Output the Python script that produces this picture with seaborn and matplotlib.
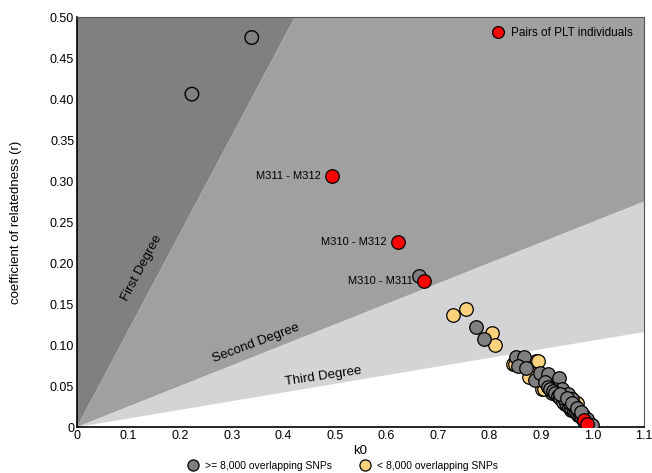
import numpy as np
import pandas as pd
import matplotlib
matplotlib.use("Agg")
import matplotlib.pyplot as plt
import seaborn as sns
from matplotlib.lines import Line2D

# >= 8,000 overlapping SNPs
gray_k0 = [0.664, 0.773, 0.790, 0.851, 0.866, 0.855, 0.870, 0.889, 0.898, 0.913,
           0.934, 0.908, 0.914, 0.921, 0.925, 0.930, 0.935, 0.938, 0.942, 0.945,
           0.948, 0.950, 0.953, 0.955, 0.957, 0.960, 0.962, 0.964, 0.966, 0.968,
           0.970, 0.972, 0.974, 0.976, 0.978, 0.980, 0.982, 0.984, 0.986, 0.988,
           0.990, 0.992, 0.994, 0.996, 0.997, 0.940, 0.952, 0.960, 0.946, 0.958,
           0.918, 0.924, 0.928, 0.932, 0.937, 0.943, 0.949, 0.954, 0.959, 0.963,
           0.967, 0.971, 0.975, 0.979, 0.983, 0.987, 0.991, 0.995, 0.944, 0.956,
           0.965, 0.973, 0.981, 0.989, 0.998, 0.936, 0.951, 0.961, 0.969, 0.977]
gray_r = [0.184, 0.122, 0.107, 0.085, 0.085, 0.074, 0.072, 0.058, 0.066, 0.065,
          0.060, 0.055, 0.049, 0.041, 0.046, 0.040, 0.043, 0.036, 0.039, 0.033,
          0.036, 0.030, 0.032, 0.027, 0.030, 0.025, 0.027, 0.022, 0.024, 0.019,
          0.021, 0.017, 0.018, 0.014, 0.016, 0.012, 0.013, 0.010, 0.011, 0.007,
          0.008, 0.005, 0.004, 0.002, 0.001, 0.047, 0.040, 0.034, 0.028, 0.021,
          0.047, 0.044, 0.042, 0.038, 0.035, 0.031, 0.029, 0.025, 0.023, 0.020,
          0.018, 0.015, 0.013, 0.011, 0.008, 0.006, 0.003, 0.003, 0.036, 0.029,
          0.026, 0.020, 0.015, 0.010, 0.002, 0.040, 0.035, 0.030, 0.023, 0.019]

# < 8,000 overlapping SNPs
yellow_k0 = [0.729, 0.754, 0.804, 0.811, 0.845, 0.849, 0.879, 0.890, 0.894, 0.876,
             0.902, 0.905, 0.959, 0.966, 0.969, 0.955, 0.985]
yellow_r = [0.137, 0.144, 0.115, 0.100, 0.077, 0.077, 0.072, 0.081, 0.081, 0.061,
            0.046, 0.047, 0.035, 0.031, 0.029, 0.037, 0.006]

# pairs of PLT individuals
red_k0 = [0.4955, 0.622, 0.673, 0.984, 0.990]
red_r = [0.306, 0.226, 0.178, 0.0085, 0.004]
red_labels = ["M311 - M312", "M310 - M312", "M310 - M311", "", ""]

# open circles
open_k0 = [0.223, 0.339]
open_r = [0.406, 0.475]

# degree boundaries
first_top_k0 = 0.423   # first-degree line reaches r = 0.5 here
second_right_r = 0.275  # second-degree line at k0 = 1.1
third_right_r = 0.116   # third-degree line at k0 = 1.1

sns.set_style("white")
plt.rcParams['font.family'] = ['Liberation Sans', 'DejaVu Sans']
plt.rcParams['text.color'] = 'black'
plt.rcParams['axes.labelcolor'] = 'black'
plt.rcParams['xtick.color'] = 'black'
plt.rcParams['ytick.color'] = 'black'

fig = plt.figure(figsize=(6.52, 4.73), dpi=100)
ax = fig.add_axes([0.118, 0.097, 0.870, 0.867])
ax.set_xlim(0, 1.1)
ax.set_ylim(0, 0.5)

ax.fill([0, 0, first_top_k0], [0, 0.5, 0.5], color="#808080", lw=0, zorder=0)
ax.fill([0, first_top_k0, 1.1, 1.1], [0, 0.5, 0.5, second_right_r], color="#a0a0a0", lw=0, zorder=0)
ax.fill([0, 1.1, 1.1], [0, second_right_r, third_right_r], color="#d4d4d6", lw=0, zorder=0)

ax.text(0.126, 0.194, "First Degree", rotation=62, ha="center", va="center", fontsize=9.5)
ax.text(0.348, 0.102, "Second Degree", rotation=20.5, ha="center", va="center", fontsize=9.5)
ax.text(0.478, 0.062, "Third Degree", rotation=8.5, ha="center", va="center", fontsize=9.5)

yellow = pd.DataFrame({"k0": yellow_k0, "r": yellow_r})
gray = pd.DataFrame({"k0": gray_k0, "r": gray_r})
red = pd.DataFrame({"k0": red_k0, "r": red_r})
opn = pd.DataFrame({"k0": open_k0, "r": open_r})

sns.scatterplot(data=yellow, x="k0", y="r", ax=ax, s=95, color="#fdd27c",
                edgecolor="black", linewidth=0.9, zorder=3)
sns.scatterplot(data=gray, x="k0", y="r", ax=ax, s=95, color="#7f7f7f",
                edgecolor="black", linewidth=0.9, zorder=3)
sns.scatterplot(data=opn, x="k0", y="r", ax=ax, s=95, facecolor="none",
                edgecolor="black", linewidth=1.0, zorder=3)
sns.scatterplot(data=red, x="k0", y="r", ax=ax, s=95, color="#ff0000",
                edgecolor="black", linewidth=0.9, zorder=4)

for x, y, lab in zip(red_k0, red_r, red_labels):
    if lab:
        ax.annotate(lab, (x, y), xytext=(-8, 0), textcoords="offset points",
                    ha="right", va="center", fontsize=8)

ax.set_xticks(np.arange(0, 1.11, 0.1))
ax.set_xticklabels(["0"] + [f"{v:.1f}" for v in np.arange(0.1, 1.11, 0.1)])
ax.set_yticks(np.arange(0, 0.51, 0.05))
ax.set_yticklabels(["0"] + [f"{v:.2f}" for v in np.arange(0.05, 0.51, 0.05)])
ax.tick_params(axis="both", labelsize=9, length=0, pad=2)
ax.set_xlabel("k0", fontsize=9.5, labelpad=2)
ax.set_ylabel("coefficient of relatedness (r)", fontsize=9.5, labelpad=20)

for side in ["left", "bottom"]:
    ax.spines[side].set_color("black")
    ax.spines[side].set_linewidth(1.2)
for side in ["top", "right"]:
    ax.spines[side].set_color("#555555")
    ax.spines[side].set_linewidth(0.8)

red_h = Line2D([], [], marker="o", ls="", markersize=8.5, markerfacecolor="#ff0000",
               markeredgecolor="black", markeredgewidth=0.9)
ax.legend([red_h], ["Pairs of PLT individuals"], loc="upper right",
          bbox_to_anchor=(0.995, 0.995), frameon=False, fontsize=8.5,
          handletextpad=0.1, borderaxespad=0.3)

gray_h = Line2D([], [], marker="o", ls="", markersize=8, markerfacecolor="#7f7f7f",
                markeredgecolor="black", markeredgewidth=0.9)
yel_h = Line2D([], [], marker="o", ls="", markersize=8, markerfacecolor="#fdd27c",
               markeredgecolor="black", markeredgewidth=0.9)
fig.legend([gray_h, yel_h], [">= 8,000 overlapping SNPs", "< 8,000 overlapping SNPs"],
           loc="center", bbox_to_anchor=(0.522, 0.015), ncol=2, frameon=False,
           fontsize=7.5, handletextpad=0.1, columnspacing=2.2)

fig.savefig("out.png", dpi=100)
